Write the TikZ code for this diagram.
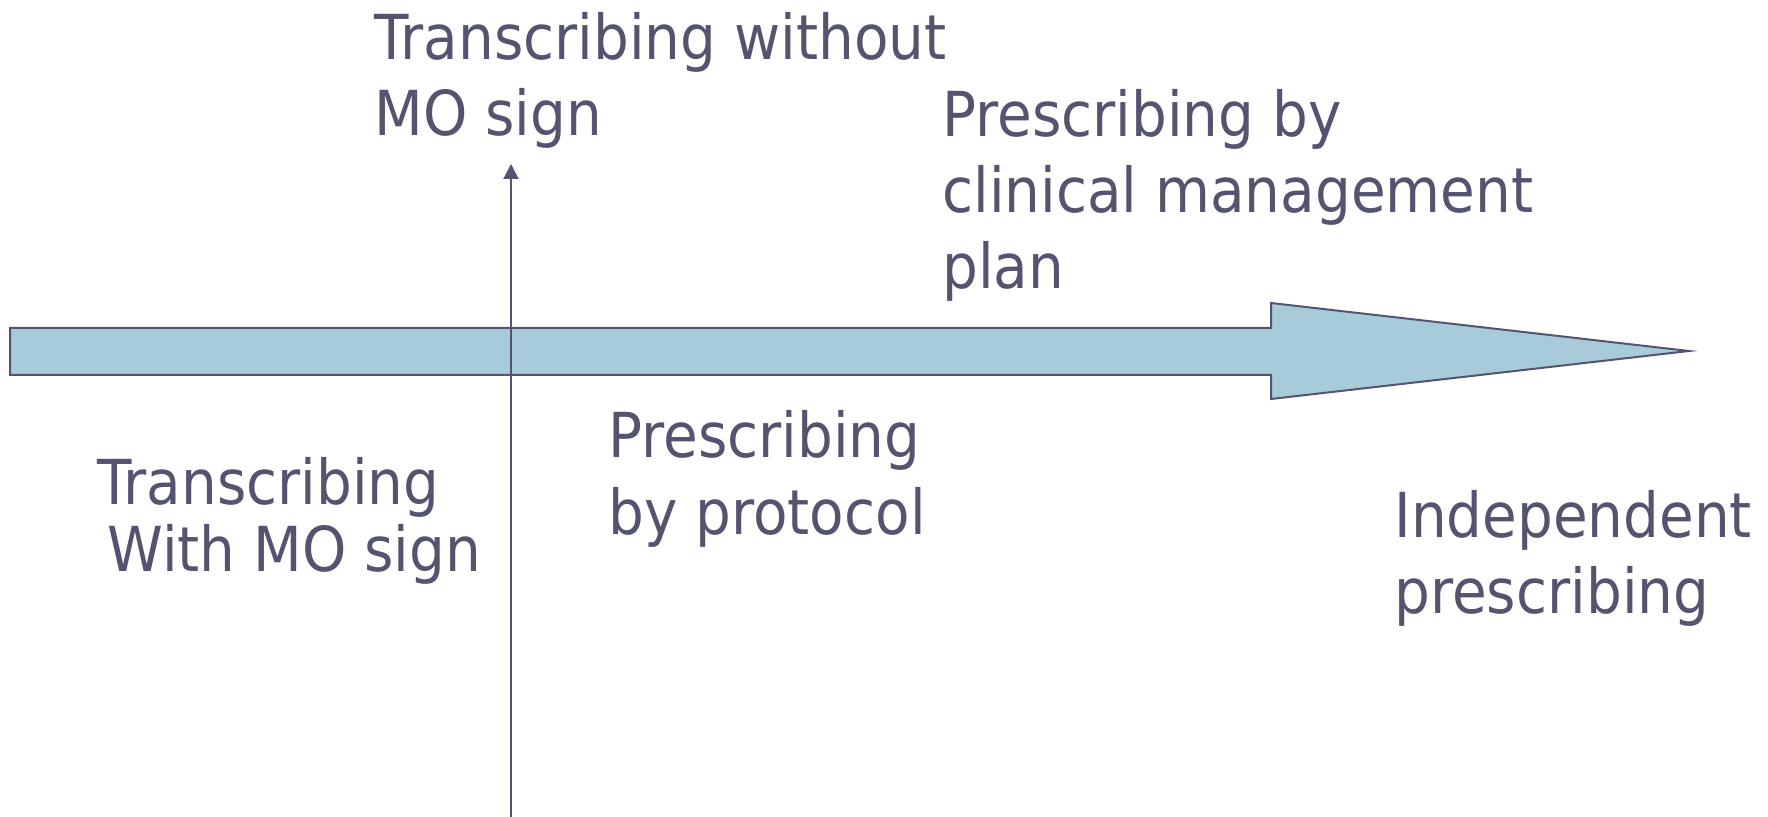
\documentclass[tikz,border=0pt]{standalone}
\usepackage{fontspec}
\setmainfont{DejaVu Sans}[FakeStretch=0.91]
\usetikzlibrary{arrows.meta}
\definecolor{inkcol}{RGB}{84,84,112}
\definecolor{shaftcol}{RGB}{167,203,217}
\newcommand{\mylines}[2]{\vtop{\baselineskip=#1\lineskiplimit=-100pt\relax #2}}
\tikzset{
  lbl/.style={anchor=base west, inner sep=0pt, text=inkcol, font=\fontsize{31pt}{38pt}\selectfont},
  bigarrow/.style={draw=inkcol, line width=1pt, fill=shaftcol, line join=miter},
  axisline/.style={draw=inkcol, line width=1pt, -{Triangle[width=7.5pt,length=7.5pt]}}
}
\begin{document}
\begin{tikzpicture}[x=0.5pt,y=-0.5pt]
\useasboundingbox (0,0) rectangle (1768,817);
% big horizontal arrow
\path[bigarrow] (10,328) -- (1271,328) -- (1271,303) -- (1689,351) -- (1271,399) -- (1271,375) -- (10,375) -- cycle;
% vertical axis
\coordinate (vbot) at (511,817);
\coordinate (vtop) at (511,164);
\draw[axisline] (vbot) -- (vtop);
% labels
\node[lbl] (twithout) at (374,60) {\mylines{38pt}{\hbox{Transcribing without}\hbox{MO sign}}};
\node[lbl] (pcmp) at (942,137) {\mylines{38pt}{\hbox{Prescribing by}\hbox{clinical management}\hbox{plan}}};
\node[lbl] (pprot) at (608,458) {\mylines{38.5pt}{\hbox{Prescribing}\hbox{by protocol}}};
\node[lbl] (twith) at (97,505) {\mylines{33.5pt}{\hbox{Transcribing}\hbox{\hspace{5pt}With MO sign}}};
\node[lbl] (indep) at (1394,538) {\mylines{38pt}{\hbox{Independent}\hbox{prescribing}}};
\end{tikzpicture}
\end{document}
